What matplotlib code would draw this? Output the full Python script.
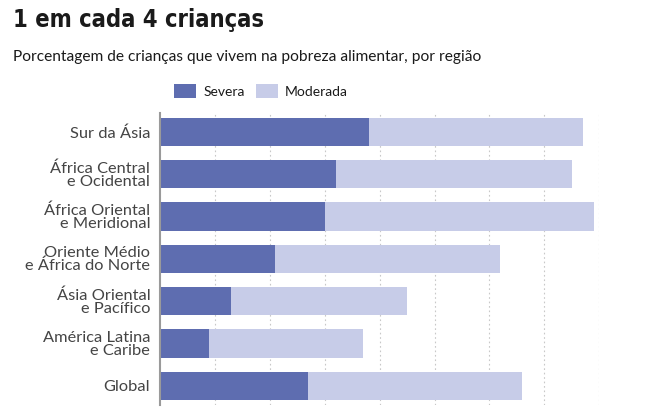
"""
Stacked horizontal bars: child food poverty by region (severe + moderate).
"""

import matplotlib.pyplot as plt
from matplotlib.patches import Patch

# Data (percent of children)
regions = [
    "Sur da Ásia",
    "África Central\ne Ocidental",
    "África Oriental\ne Meridional",
    "Oriente Médio\ne África do Norte",
    "Ásia Oriental\ne Pacífico",
    "América Latina\ne Caribe",
    "Global",
]
severa = [38, 32, 30, 21, 13, 9, 27]
moderada = [39, 43, 49, 41, 32, 28, 39]

series_names = ["Severa", "Moderada"]
x_ticks = [10, 20, 30, 40, 50, 60, 70, 80]

COLORS = {
    "severa": "#5e6db0",
    "moderada": "#c7cce8",
    "text": "#1a1a1a",
    "label": "#444444",
    "grid": "#c8c8c8",
    "spine": "#9a9a9a",
}

BODY_FONT = ["Lato", "DejaVu Sans"]

W, H = 652, 408
fig = plt.figure(figsize=(W / 100, H / 100), dpi=100)
fig.patch.set_facecolor("white")

# axes box in pixel coords
left, right, top, bottom = 160, 599.3, 112.7, 405
ax = fig.add_axes([left / W, 1 - bottom / H, (right - left) / W, (bottom - top) / H])

y = list(range(len(regions)))
ax.barh(y, severa, height=0.67, color=COLORS["severa"], zorder=2)
ax.barh(y, moderada, left=severa, height=0.67, color=COLORS["moderada"], zorder=2)

ax.set_xlim(0, 80)
ax.set_ylim(len(regions) - 0.55, -0.45)

ax.set_xticks(x_ticks)
ax.set_xticklabels([])
ax.tick_params(axis="x", length=0)
ax.xaxis.grid(True, linestyle=(0, (1.5, 2.5)), linewidth=0.8, color=COLORS["grid"], zorder=0)
ax.set_axisbelow(True)

ax.set_yticks(y)
ax.set_yticklabels(regions, fontsize=11.8, color=COLORS["label"],
                   family=BODY_FONT, linespacing=0.88, ha="right")
ax.tick_params(axis="y", length=0, pad=7)

for side in ["top", "right", "bottom"]:
    ax.spines[side].set_visible(False)
ax.spines["left"].set_color(COLORS["spine"])
ax.spines["left"].set_linewidth(1.5)
ax.spines["left"].set_zorder(3)

# Title & subtitle
fig.text(13 / W, 1 - 27 / H, "1 em cada 4 crianças", fontsize=17, fontweight="bold",
         fontstretch="condensed", color=COLORS["text"], family=["DejaVu Sans"],
         ha="left", va="baseline")
fig.text(13 / W, 1 - 61 / H, "Porcentagem de crianças que vivem na pobreza alimentar, por região",
         fontsize=11.15, color=COLORS["text"], family=BODY_FONT, ha="left", va="baseline")

# Legend
handles = [
    Patch(facecolor=COLORS["severa"], edgecolor="none"),
    Patch(facecolor=COLORS["moderada"], edgecolor="none"),
]
fig.legend(handles, series_names, loc="center", bbox_to_anchor=(261 / W, 1 - 91 / H),
           ncol=2, frameon=False, prop={"family": BODY_FONT, "size": 10},
           handlelength=1.6, handleheight=1.15, handletextpad=0.5, columnspacing=0.8,
           labelcolor=COLORS["text"])

fig.savefig("out.png", dpi=100, facecolor="white")
